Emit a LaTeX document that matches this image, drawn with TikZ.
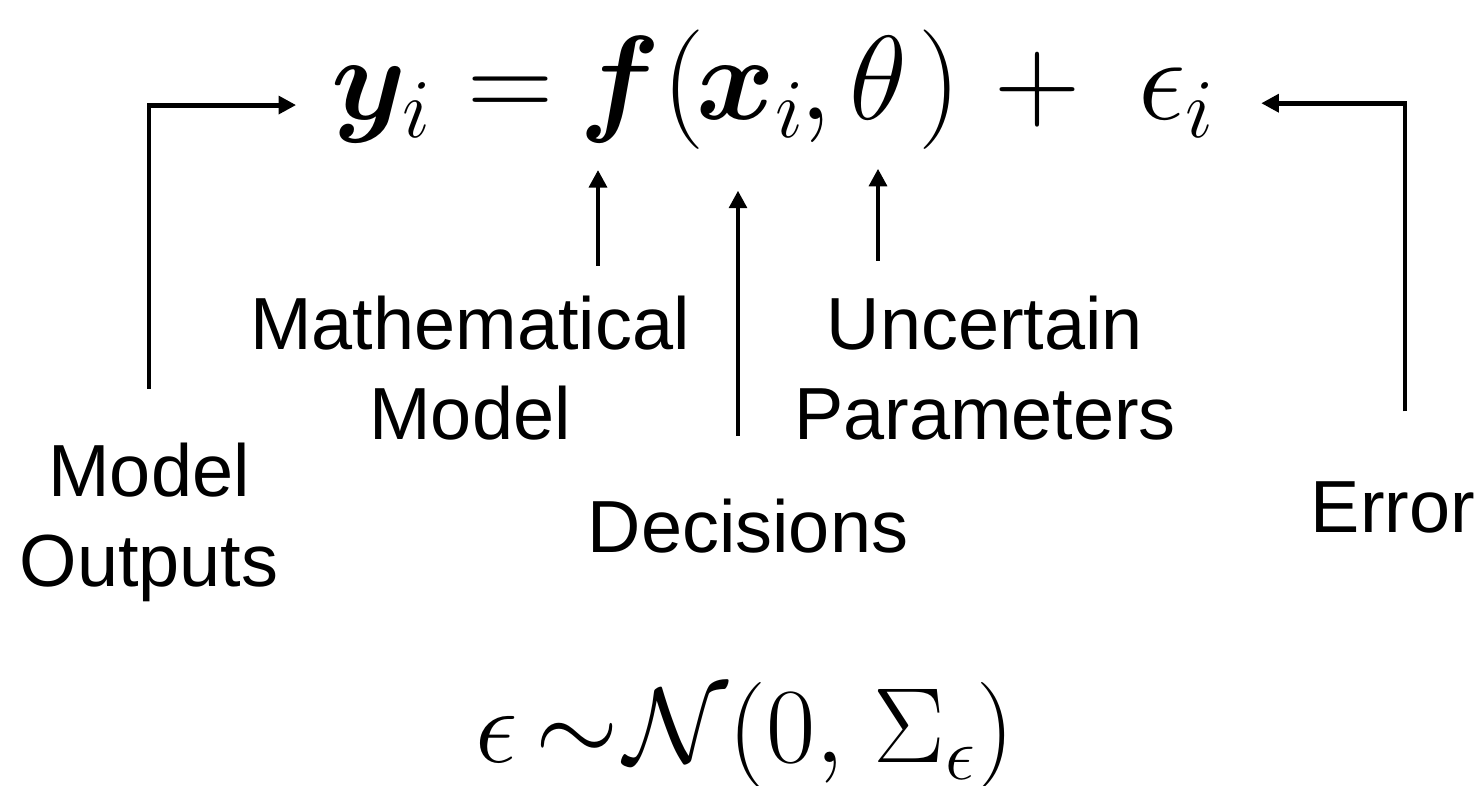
\RequirePackage{fix-cm}
\documentclass[tikz,border=0pt]{standalone}
\usepackage{amsmath}
\usepackage{bm}
\usepackage[no-math]{fontspec}
\newfontfamily\lblfont{Liberation Sans}
\usetikzlibrary{arrows.meta}

\tikzset{
    eqn/.style={inner sep=0pt, anchor=base, font=\fontsize{34}{40}\selectfont},
    lbl/.style={inner sep=0pt, anchor=base, align=center, font=\lblfont\fontsize{21}{25.6}\selectfont},
    arr/.style={line width=1.4pt, -{Triangle[length=5pt, width=5pt]}}
}

\begin{document}
\begin{tikzpicture}[x=0.01cm, y=-0.01cm]
        \useasboundingbox (0, 0) rectangle (1482, 786);

        % Model equation, one piece per term
        \node[eqn] (yi) at (382, 120) {$\bm{y}_i$};
        \node[eqn] (eq) at (511, 120) {$=$};
        \node[eqn] (f) at (620, 120) {$\bm{f}$};
        \node[eqn] (lp) at (684, 120) {$($};
        \node[eqn] (xi) at (751, 120) {$\bm{x}_i$};
        \node[eqn] (cm) at (816, 120) {$,$};
        \node[eqn] (th) at (878, 120) {$\theta$};
        \node[eqn] (rp) at (940, 120) {$)$};
        \node[eqn] (pl) at (1038, 120) {$+$};
        \node[eqn] (ei) at (1177, 120) {$\epsilon_i$};

        % Labels (base = last line)
        \node[lbl] (mo) at (149, 587) {Model\\Outputs};
        \node[lbl] (mm) at (470, 440) {Mathematical\\Model};
        \node[lbl] (dec) at (748, 553) {Decisions};
        \node[lbl] (up) at (985, 440) {Uncertain\\Parameters};
        \node[lbl] (err) at (1393, 533) {Error};

        % Error distribution
        \node[eqn, font=\fontsize{30.4}{36}\selectfont] (dist) at (745, 763) {$\epsilon\mspace{3mu}{\sim}\mspace{1mu}\mathcal{N}(0,\mspace{2mu}\Sigma_\epsilon)$};

        % Arrow tips below the equation
        \coordinate (ftip) at ([xshift=-0.22cm]f.south);
        \coordinate (xtip) at ([xshift=-0.13cm]xi.south);

        % Draw the arrows
        \draw[arr, shorten <=0.54cm, shorten >=0.35cm] (mo.north) |- (yi.west);
        \draw[arr, shorten <=0.3cm, shorten >=0.26cm] (mm.north -| ftip) -- (ftip);
        \draw[arr, shorten <=0.63cm, shorten >=0.52cm] (dec.north -| xtip) -- (xtip);
        \draw[arr, shorten <=0.35cm, shorten >=0.48cm] (up.north -| th.south) -- (th.south);
        \draw[arr, shorten <=0.7cm, shorten >=0.45cm] ([xshift=0.12cm]err.north) |- (ei.east);

    \end{tikzpicture}
\end{document}
